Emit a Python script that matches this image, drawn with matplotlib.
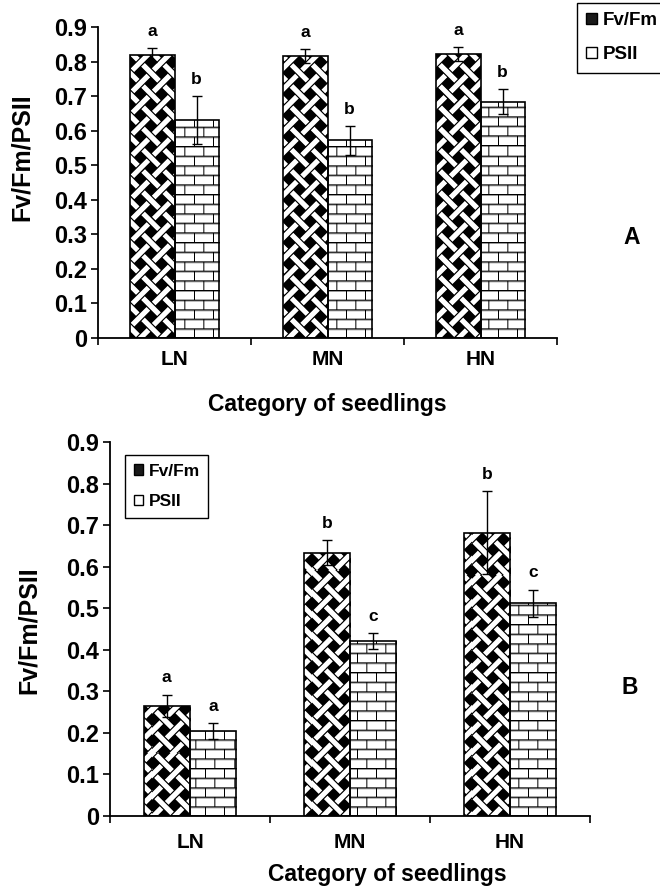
import numpy as np
import matplotlib
matplotlib.use("Agg")
import matplotlib.pyplot as plt
from matplotlib.patches import Patch

plt.rcParams['font.family'] = ['Liberation Sans', 'DejaVu Sans']
plt.rcParams['font.weight'] = 'bold'

# Datos
categorias = ["LN", "MN", "HN"]
series = ["Fv/Fm", "PSII"]
yticks = [0, 0.1, 0.2, 0.3, 0.4, 0.5, 0.6, 0.7, 0.8, 0.9]
ytick_labels = ["0", "0.1", "0.2", "0.3", "0.4", "0.5", "0.6", "0.7", "0.8", "0.9"]

# Panel A
a_fvfm = [0.818, 0.815, 0.821]
a_fvfm_err = [0.020, 0.020, 0.020]
a_psii = [0.630, 0.572, 0.684]
a_psii_err = [0.070, 0.041, 0.036]
a_fvfm_letras = ["a", "a", "a"]
a_psii_letras = ["b", "b", "b"]

# Panel B
b_fvfm = [0.265, 0.634, 0.682]
b_fvfm_err = [0.027, 0.030, 0.100]
b_psii = [0.204, 0.421, 0.512]
b_psii_err = [0.019, 0.019, 0.033]
b_fvfm_letras = ["a", "b", "b"]
b_psii_letras = ["a", "c", "c"]

ANCHO_FIG, ALTO_FIG = 660, 894


# Texturas (tejido para Fv/Fm, ladrillo para PSII)
def textura_tejido(h, w, p=15.0, ancho=7.5, lw=1.2, ss=3):
    yy, xx = (np.mgrid[0:h * ss, 0:w * ss] + 0.5) / ss
    u = (xx + yy) / np.sqrt(2)
    v = (xx - yy) / np.sqrt(2)
    i = np.round(u / p)
    j = np.round(v / p)
    du = np.abs(u - i * p)
    dv = np.abs(v - j * p)
    en_u = dv < ancho / 2
    en_v = du < ancho / 2
    u_arriba = ((i + j) % 2) == 0
    ver_u = en_u & (~en_v | u_arriba)
    ver_v = en_v & (~en_u | ~u_arriba)
    blanco = (ver_u & (dv < ancho / 2 - lw)) | (ver_v & (du < ancho / 2 - lw))
    return blanco.astype(float).reshape(h, ss, w, ss).mean(axis=(1, 3))


def textura_ladrillo(h, w, alto=9.6, largo=19.0, ss=3):
    yy, xx = (np.mgrid[0:h * ss, 0:w * ss] + 0.5) / ss
    fila = np.floor(yy / alto)
    fy = yy - fila * alto
    fx = (xx + (fila % 2) * largo / 2) % largo
    img = np.ones_like(yy)
    img[(fy >= alto - 2.0) & (fy < alto - 1.0)] = 0.6
    img[fy >= alto - 1.0] = 0.0
    img[fx < 1.0] = 0.0
    return img.reshape(h, ss, w, ss).mean(axis=(1, 3))


def dibujar_panel(ax, fvfm, fvfm_err, psii, psii_err, letras_fvfm, letras_psii, pad_x):
    x = np.arange(len(categorias))
    ancho = 0.29
    pos = ax.get_position()
    h = int(round(pos.height * ALTO_FIG))
    w = int(round(pos.width * ANCHO_FIG))
    tex_fvfm = textura_tejido(h, w)
    tex_psii = textura_ladrillo(h, w)

    grupos = [(-ancho / 2, fvfm, fvfm_err, letras_fvfm, tex_fvfm),
              (ancho / 2, psii, psii_err, letras_psii, tex_psii)]
    for desp, valores, errores, letras, tex in grupos:
        barras = ax.bar(x + desp, valores, ancho, facecolor='none',
                        edgecolor='black', linewidth=1.2, zorder=3)
        for barra in barras:
            im = ax.imshow(tex, extent=(-0.5, 2.5, 0, 0.9), origin='lower',
                           cmap='gray', vmin=0, vmax=1, aspect='auto',
                           interpolation='nearest', zorder=2)
            im.set_clip_path(barra)
        ax.errorbar(x + desp, valores, yerr=errores, fmt='none', ecolor='black',
                    elinewidth=1, capsize=3.5, capthick=1, zorder=4)
        for xi, v, e, l in zip(x + desp, valores, errores, letras):
            ax.annotate(l, (xi, v + e), xytext=(0, 9), textcoords='offset points',
                        ha='center', va='baseline', fontsize=12.5, fontweight='bold')

    ax.set_xlim(-0.5, 2.5)
    ax.set_ylim(0, 0.9)
    ax.spines['top'].set_visible(False)
    ax.spines['right'].set_visible(False)
    ax.spines['left'].set_linewidth(1.3)
    ax.spines['bottom'].set_linewidth(1.3)
    ax.set_yticks(yticks)
    ax.set_yticklabels(ytick_labels, fontsize=17, fontweight='bold')
    ax.tick_params(axis='y', length=5, width=1.2, pad=3)
    ax.set_xticks([-0.5, 0.5, 1.5, 2.5])
    ax.set_xticklabels([])
    ax.tick_params(axis='x', which='major', length=5, width=1.2)
    ax.set_xticks(x, minor=True)
    ax.set_xticklabels(categorias, minor=True, fontsize=15, fontweight='bold')
    ax.tick_params(axis='x', which='minor', length=0, pad=pad_x)


fig = plt.figure(figsize=(ANCHO_FIG / 100, ALTO_FIG / 100), dpi=100)

ax_a = fig.add_axes([98 / 660, 1 - 338 / 894, 459 / 660, 311 / 894])
ax_b = fig.add_axes([110 / 660, 1 - 816 / 894, 480 / 660, 374 / 894])

dibujar_panel(ax_a, a_fvfm, a_fvfm_err, a_psii, a_psii_err, a_fvfm_letras, a_psii_letras, 9)
dibujar_panel(ax_b, b_fvfm, b_fvfm_err, b_psii, b_psii_err, b_fvfm_letras, b_psii_letras, 12.5)

# Etiquetas
fig.text(22 / 660, 1 - 157 / 894, "Fv/Fm/PSII", rotation=90, ha='center', va='center',
         fontsize=18, fontweight='bold')
fig.text(29 / 660, 1 - 630 / 894, "Fv/Fm/PSII", rotation=90, ha='center', va='center',
         fontsize=18, fontweight='bold')
fig.text(327 / 660, 1 - 405 / 894, "Category of seedlings", ha='center', va='center',
         fontsize=16.5, fontweight='bold')
fig.text(387 / 660, 1 - 875 / 894, "Category of seedlings", ha='center', va='center',
         fontsize=16.5, fontweight='bold')
fig.text(632 / 660, 1 - 237 / 894, "A", ha='center', va='center', fontsize=16.5, fontweight='bold')
fig.text(630 / 660, 1 - 687 / 894, "B", ha='center', va='center', fontsize=16.5, fontweight='bold')

# Leyendas
manijas = [Patch(facecolor='#1a1a1a', edgecolor='black', linewidth=1),
           Patch(facecolor='white', edgecolor='black', linewidth=1)]
for (px, py), tam in [((577, 3), 13.5), ((125, 455), 12.5)]:
    leg = fig.legend(manijas, series, loc='upper left',
                     bbox_to_anchor=(px / 660, 1 - py / 894), bbox_transform=fig.transFigure,
                     frameon=True, fancybox=False, edgecolor='black', framealpha=1,
                     prop={'weight': 'bold', 'size': tam}, handlelength=0.55, handleheight=0.55,
                     handletextpad=0.3, labelspacing=0.9, borderpad=0.5, borderaxespad=0)
    leg.get_frame().set_linewidth(1)

fig.savefig("out.png", dpi=100)
